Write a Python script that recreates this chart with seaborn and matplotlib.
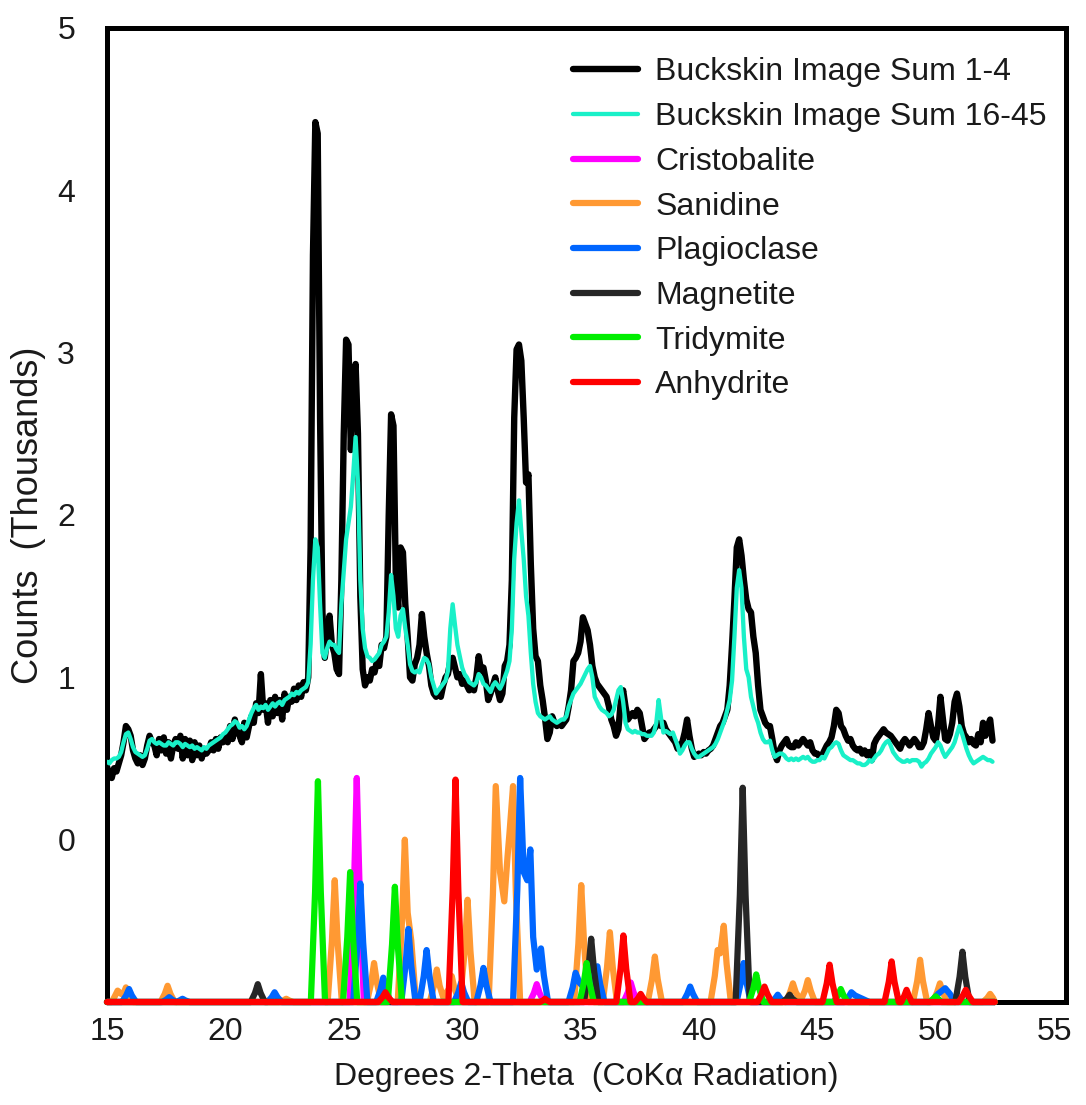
import numpy as np
import matplotlib
matplotlib.use("Agg")
import matplotlib.pyplot as plt
import seaborn as sns

# -------------------------------
# Data
# -------------------------------
# scan positions, 0.1 degree step, 15.0 .. 52.4
two_theta = np.round(np.arange(150, 525) / 10.0, 1)

# Buckskin image sum 1-4 (thousands of counts)
sum_1_4 = [
    0.45, 0.40, 0.38, 0.44, 0.42, 0.47, 0.52, 0.60, 0.70, 0.68,  # 15
    0.64, 0.55, 0.50, 0.47, 0.52, 0.46, 0.50, 0.58, 0.64, 0.60,  # 16
    0.58, 0.52, 0.62, 0.55, 0.63, 0.53, 0.60, 0.50, 0.58, 0.62,  # 17
    0.56, 0.64, 0.50, 0.62, 0.52, 0.61, 0.49, 0.60, 0.52, 0.58,  # 18
    0.50, 0.56, 0.53, 0.55, 0.60, 0.55, 0.62, 0.56, 0.63, 0.60,  # 19
    0.64, 0.60, 0.70, 0.62, 0.74, 0.66, 0.64, 0.60, 0.72, 0.63,  # 20
    0.70, 0.76, 0.72, 0.84, 0.78, 1.02, 0.80, 0.84, 0.72, 0.86,  # 21
    0.76, 0.88, 0.78, 0.86, 0.74, 0.90, 0.80, 0.88, 0.85, 0.93,  # 22
    0.86, 0.95, 0.88, 0.97, 0.92, 1.00, 1.80, 3.60, 4.42, 4.35,  # 23
    2.60, 1.40, 1.12, 1.25, 1.38, 1.20, 1.15, 1.05, 1.02, 1.60,  # 24
    2.50, 3.08, 3.05, 2.40, 2.85, 2.93, 2.50, 1.50, 1.05, 0.95,  # 25
    1.00, 0.98, 1.05, 1.03, 1.10, 1.07, 1.20, 1.18, 1.25, 2.00,  # 26
    2.62, 2.55, 1.60, 1.43, 1.80, 1.77, 1.45, 1.25, 1.00, 0.98,  # 27
    1.08, 1.12, 1.20, 1.39, 1.25, 1.15, 1.07, 0.95, 0.90, 0.88,  # 28
    0.90, 0.88, 0.95, 1.00, 1.02, 1.10, 1.12, 1.06, 1.00, 1.02,  # 29
    0.96, 0.98, 0.95, 0.92, 0.94, 0.92, 1.00, 1.13, 1.04, 1.06,  # 30
    0.98, 0.86, 0.90, 0.95, 1.00, 0.92, 0.86, 0.90, 1.07, 1.10,  # 31
    1.20, 1.60, 2.60, 3.02, 3.05, 2.95, 2.60, 2.20, 2.25, 1.70,  # 32
    1.30, 1.13, 1.10, 0.95, 0.86, 0.75, 0.62, 0.66, 0.76, 0.72,  # 33
    0.70, 0.72, 0.70, 0.72, 0.74, 0.82, 0.92, 1.10, 1.12, 1.15,  # 34
    1.22, 1.37, 1.33, 1.29, 1.20, 1.07, 1.00, 0.96, 0.94, 0.92,  # 35
    0.90, 0.88, 0.82, 0.74, 0.70, 0.64, 0.68, 0.85, 0.92, 0.82,  # 36
    0.74, 0.76, 0.78, 0.76, 0.80, 0.78, 0.70, 0.62, 0.64, 0.66,  # 37
    0.66, 0.68, 0.70, 0.72, 0.70, 0.72, 0.68, 0.66, 0.64, 0.62,  # 38
    0.60, 0.56, 0.58, 0.60, 0.66, 0.74, 0.64, 0.56, 0.51, 0.52,  # 39
    0.53, 0.52, 0.54, 0.53, 0.55, 0.56, 0.58, 0.62, 0.66, 0.70,  # 40
    0.72, 0.76, 0.80, 0.95, 1.20, 1.48, 1.80, 1.85, 1.75, 1.60,  # 41
    1.48, 1.42, 1.40, 1.25, 1.15, 0.95, 0.80, 0.76, 0.72, 0.70,  # 42
    0.70, 0.62, 0.53, 0.49, 0.55, 0.58, 0.60, 0.62, 0.58, 0.57,  # 43
    0.57, 0.60, 0.58, 0.60, 0.62, 0.60, 0.58, 0.60, 0.55, 0.53,  # 44
    0.53, 0.51, 0.52, 0.55, 0.58, 0.60, 0.63, 0.70, 0.80, 0.78,  # 45
    0.70, 0.68, 0.64, 0.61, 0.62, 0.58, 0.56, 0.55, 0.56, 0.53,  # 46
    0.55, 0.52, 0.54, 0.49, 0.59, 0.62, 0.64, 0.66, 0.68, 0.66,  # 47
    0.65, 0.64, 0.62, 0.60, 0.58, 0.56, 0.60, 0.62, 0.60, 0.58,  # 48
    0.60, 0.62, 0.60, 0.57, 0.57, 0.60, 0.68, 0.78, 0.70, 0.63,  # 49
    0.61, 0.70, 0.88, 0.75, 0.62, 0.61, 0.65, 0.72, 0.85, 0.90,  # 50
    0.82, 0.70, 0.65, 0.63, 0.60, 0.62, 0.59, 0.58, 0.65, 0.60,  # 51
    0.72, 0.64, 0.70, 0.74, 0.61,                                # 52
]

# Buckskin image sum 16-45
sum_16_45 = [
    0.48, 0.47, 0.49, 0.50, 0.50, 0.51, 0.54, 0.60, 0.65, 0.66,  # 15
    0.62, 0.57, 0.54, 0.53, 0.52, 0.51, 0.52, 0.56, 0.61, 0.62,  # 16
    0.60, 0.59, 0.60, 0.59, 0.58, 0.58, 0.60, 0.59, 0.58, 0.60,  # 17
    0.60, 0.59, 0.57, 0.59, 0.58, 0.57, 0.58, 0.56, 0.57, 0.56,  # 18
    0.55, 0.57, 0.56, 0.58, 0.59, 0.60, 0.61, 0.62, 0.63, 0.65,  # 19
    0.66, 0.68, 0.70, 0.71, 0.73, 0.72, 0.69, 0.70, 0.68, 0.70,  # 20
    0.74, 0.78, 0.81, 0.83, 0.80, 0.82, 0.81, 0.83, 0.80, 0.82,  # 21
    0.84, 0.82, 0.84, 0.85, 0.83, 0.86, 0.87, 0.88, 0.90, 0.89,  # 22
    0.91, 0.90, 0.92, 0.93, 0.94, 0.97, 1.20, 1.60, 1.85, 1.80,  # 23
    1.45, 1.15, 1.12, 1.18, 1.22, 1.20, 1.20, 1.17, 1.15, 1.45,  # 24
    1.65, 1.85, 1.95, 2.05, 2.25, 2.48, 2.20, 1.60, 1.30, 1.18,  # 25
    1.13, 1.12, 1.10, 1.11, 1.13, 1.15, 1.20, 1.22, 1.25, 1.40,  # 26
    1.63, 1.50, 1.30, 1.25, 1.38, 1.42, 1.30, 1.20, 1.08, 1.04,  # 27
    1.03, 1.04, 1.03, 1.08, 1.12, 1.11, 1.08, 1.00, 0.95, 0.90,  # 28
    0.92, 0.94, 0.96, 0.98, 1.04, 1.30, 1.45, 1.32, 1.20, 1.13,  # 29
    1.06, 1.02, 1.00, 0.97, 0.96, 0.95, 0.97, 1.02, 1.00, 0.96,  # 30
    0.95, 0.93, 0.91, 0.95, 0.97, 0.95, 0.93, 0.96, 1.00, 1.04,  # 31
    1.10, 1.30, 1.73, 1.95, 2.09, 1.90, 1.73, 1.50, 1.38, 1.15,  # 32
    0.96, 0.85, 0.78, 0.76, 0.75, 0.74, 0.75, 0.76, 0.74, 0.73,  # 33
    0.72, 0.73, 0.74, 0.74, 0.76, 0.82, 0.86, 0.90, 0.92, 0.94,  # 34
    0.96, 0.99, 1.02, 1.05, 1.07, 1.00, 0.88, 0.85, 0.82, 0.80,  # 35
    0.79, 0.78, 0.76, 0.77, 0.80, 0.86, 0.92, 0.94, 0.85, 0.72,  # 36
    0.68, 0.67, 0.66, 0.67, 0.66, 0.66, 0.65, 0.65, 0.64, 0.64,  # 37
    0.64, 0.66, 0.72, 0.86, 0.75, 0.66, 0.67, 0.66, 0.65, 0.66,  # 38
    0.62, 0.58, 0.53, 0.55, 0.58, 0.60, 0.60, 0.56, 0.53, 0.51,  # 39
    0.51, 0.52, 0.53, 0.54, 0.55, 0.56, 0.57, 0.59, 0.62, 0.66,  # 40
    0.70, 0.74, 0.80, 0.86, 0.98, 1.25, 1.55, 1.66, 1.55, 1.25,  # 41
    1.05, 1.00, 0.88, 0.82, 0.76, 0.72, 0.66, 0.62, 0.60, 0.60,  # 42
    0.61, 0.55, 0.51, 0.52, 0.53, 0.53, 0.52, 0.50, 0.49, 0.50,  # 43
    0.49, 0.50, 0.49, 0.50, 0.51, 0.50, 0.51, 0.49, 0.48, 0.48,  # 44
    0.49, 0.49, 0.51, 0.50, 0.53, 0.56, 0.57, 0.59, 0.60, 0.59,  # 45
    0.55, 0.52, 0.51, 0.50, 0.49, 0.49, 0.48, 0.47, 0.47, 0.46,  # 46
    0.46, 0.47, 0.49, 0.48, 0.50, 0.52, 0.53, 0.55, 0.58, 0.60,  # 47
    0.61, 0.58, 0.54, 0.52, 0.50, 0.49, 0.48, 0.48, 0.49, 0.48,  # 48
    0.49, 0.49, 0.49, 0.48, 0.45, 0.47, 0.48, 0.50, 0.53, 0.55,  # 49
    0.57, 0.60, 0.58, 0.54, 0.51, 0.53, 0.55, 0.57, 0.60, 0.65,  # 50
    0.70, 0.66, 0.61, 0.56, 0.52, 0.49, 0.47, 0.48, 0.49, 0.50,  # 51
    0.51, 0.50, 0.49, 0.49, 0.48,                                # 52
]

# reference phase patterns, offset so their baseline sits at -1
cristobalite = [
    (15.0, -1), (25.25, -1), (25.43, -0.31), (25.55, 0.38), (25.67, -0.31), (25.85, -1),
    (32.85, -1), (33.03, -0.945), (33.15, -0.89), (33.27, -0.945), (33.45, -1),
    (36.82, -1), (37.0, -0.94), (37.12, -0.88), (37.24, -0.94), (37.42, -1), (52.5, -1),
]

sanidine = [
    (15.0, -1), (15.2, -1), (15.33, -0.965), (15.45, -0.93), (15.6, -0.95), (15.68, -0.955),
    (15.8, -0.91), (15.92, -0.955), (16.1, -1),
    (17.26, -1), (17.44, -0.95), (17.56, -0.90), (17.68, -0.95), (17.86, -1),
    (22.27, -1), (22.45, -0.99), (22.57, -0.98), (22.69, -0.99), (22.87, -1),
    (24.32, -1), (24.5, -0.625), (24.62, -0.25), (24.74, -0.625), (24.92, -1),
    (25.98, -1), (26.16, -0.88), (26.28, -0.76), (26.4, -0.88), (26.58, -1),
    (27.28, -1), (27.46, -0.5), (27.58, 0.0), (27.7, -0.45), (27.85, -0.62), (28.05, -1),
    (28.63, -1), (28.81, -0.9), (28.93, -0.80), (29.05, -0.9), (29.2, -0.97),
    (29.44, -0.92), (29.56, -0.84), (29.68, -0.92), (29.9, -1),
    (30.11, -0.685), (30.23, -0.37), (30.35, -0.685), (30.53, -1),
    (31.12, -1), (31.3, -0.335), (31.42, 0.33), (31.6, -0.2), (31.78, -0.38),
    (31.92, -0.1), (32.0, 0.04), (32.15, 0.33), (32.27, -0.335), (32.45, -1),
    (34.73, -1), (34.91, -0.64), (35.03, -0.28), (35.15, -0.64), (35.33, -1),
    (35.94, -1), (36.12, -0.785), (36.24, -0.57), (36.36, -0.785), (36.54, -1),
    (37.84, -1), (38.02, -0.86), (38.14, -0.72), (38.26, -0.86), (38.44, -1),
    (40.49, -1), (40.67, -0.84), (40.79, -0.68), (40.9, -0.7), (41.05, -0.53),
    (41.17, -0.765), (41.35, -1),
    (43.67, -1), (43.85, -0.94), (43.97, -0.885), (44.09, -0.94), (44.3, -0.99),
    (44.48, -0.93), (44.6, -0.865), (44.72, -0.93), (44.9, -1),
    (49.04, -1), (49.22, -0.87), (49.34, -0.74), (49.46, -0.87), (49.64, -1),
    (49.88, -1), (50.06, -0.94), (50.18, -0.885), (50.3, -0.94), (50.48, -1),
    (52.0, -1), (52.18, -0.975), (52.3, -0.95), (52.42, -0.975), (52.5, -1),
]

plagioclase = [
    (15.0, -1), (15.63, -1), (15.81, -0.96), (15.93, -0.92), (16.05, -0.96), (16.23, -1),
    (17.33, -1), (17.51, -0.985), (17.63, -0.97), (17.75, -0.985), (17.93, -1),
    (18.07, -0.99), (18.19, -0.98), (18.31, -0.99), (18.49, -1),
    (21.78, -1), (21.96, -0.97), (22.08, -0.94), (22.2, -0.97), (22.38, -1),
    (25.4, -1), (25.58, -0.635), (25.7, -0.27), (25.82, -0.635), (26.0, -1),
    (26.37, -1), (26.55, -0.925), (26.67, -0.85), (26.79, -0.925), (26.97, -1),
    (27.43, -1), (27.61, -0.775), (27.73, -0.55), (27.85, -0.775), (28.03, -1),
    (28.2, -1), (28.38, -0.84), (28.5, -0.68), (28.62, -0.84), (28.8, -1),
    (29.66, -1), (29.84, -0.94), (29.96, -0.88), (30.08, -0.94), (30.26, -1),
    (30.6, -1), (30.78, -0.895), (30.9, -0.79), (31.02, -0.895), (31.2, -1),
    (32.15, -1), (32.33, -0.31), (32.45, 0.38), (32.6, -0.2), (32.75, -0.25),
    (32.88, -0.06), (33.0, -0.6), (33.15, -0.8), (33.33, -0.67), (33.45, -0.835), (33.63, -1),
    (34.49, -1), (34.67, -0.91), (34.79, -0.82), (34.95, -0.88), (35.2, -0.92),
    (35.45, -0.86), (35.71, -0.78), (35.83, -0.89), (36.01, -1),
    (39.33, -1), (39.51, -0.95), (39.63, -0.905), (39.75, -0.95), (39.93, -1),
    (41.59, -1), (41.77, -0.88), (41.89, -0.76), (42.01, -0.88), (42.19, -1),
    (43.03, -1), (43.21, -0.98), (43.33, -0.955), (43.45, -0.98), (43.63, -1),
    (46.14, -1), (46.32, -0.97), (46.44, -0.94), (46.6, -0.96), (46.9, -0.98), (47.2, -1),
    (49.8, -1), (50.1, -0.95), (50.4, -0.915), (50.6, -0.95), (50.8, -1), (52.5, -1),
]

magnetite = [
    (15.0, -1), (21.07, -1), (21.25, -0.945), (21.37, -0.89), (21.49, -0.945), (21.67, -1),
    (35.15, -1), (35.33, -0.805), (35.45, -0.61), (35.57, -0.805), (35.75, -1),
    (41.55, -1), (41.73, -0.34), (41.85, 0.32), (41.97, -0.34), (42.15, -1),
    (43.53, -1), (43.71, -0.98), (43.83, -0.955), (43.95, -0.98), (44.13, -1),
    (50.83, -1), (51.01, -0.845), (51.13, -0.69), (51.25, -0.845), (51.43, -1), (52.5, -1),
]

tridymite = [
    (15.0, -1), (23.61, -1), (23.79, -0.32), (23.91, 0.36), (24.03, -0.32), (24.21, -1),
    (24.97, -1), (25.15, -0.6), (25.27, -0.2), (25.39, -0.6), (25.57, -1),
    (26.86, -1), (27.04, -0.645), (27.16, -0.29), (27.28, -0.645), (27.46, -1),
    (34.96, -1), (35.14, -0.88), (35.26, -0.76), (35.38, -0.88), (35.56, -1),
    (42.12, -1), (42.3, -0.915), (42.42, -0.83), (42.54, -0.915), (42.72, -1),
    (45.69, -1), (45.87, -0.96), (45.99, -0.92), (46.11, -0.96), (46.29, -1),
    (49.75, -1), (49.9, -0.98), (50.0, -0.965), (50.1, -0.98), (50.25, -1), (52.5, -1),
]

anhydrite = [
    (15.0, -1), (26.46, -1), (26.64, -0.97), (26.76, -0.94), (26.88, -0.97), (27.06, -1),
    (29.42, -1), (29.6, -0.315), (29.72, 0.37), (29.84, -0.315), (30.02, -1),
    (33.3, -1), (33.42, -0.99), (33.5, -0.98), (33.58, -0.99), (33.7, -1),
    (36.51, -1), (36.69, -0.795), (36.81, -0.59), (36.93, -0.795), (37.11, -1),
    (37.3, -1), (37.44, -0.975), (37.54, -0.95), (37.64, -0.975), (37.78, -1),
    (42.47, -1), (42.65, -0.95), (42.77, -0.905), (42.89, -0.95), (43.07, -1),
    (45.22, -1), (45.4, -0.885), (45.52, -0.77), (45.64, -0.885), (45.82, -1),
    (47.84, -1), (48.02, -0.875), (48.14, -0.75), (48.26, -0.875), (48.44, -1),
    (48.55, -1), (48.68, -0.96), (48.77, -0.925), (48.86, -0.96), (48.99, -1),
    (50.97, -1), (51.15, -0.96), (51.27, -0.925), (51.39, -0.96), (51.57, -1), (52.5, -1),
]

phase_names = ["Cristobalite", "Sanidine", "Plagioclase", "Magnetite", "Tridymite", "Anhydrite"]
phase_data = [cristobalite, sanidine, plagioclase, magnetite, tridymite, anhydrite]
phase_colors = ["#FF00FF", "#FF9933", "#0066FF", "#262626", "#00EE00", "#FF0000"]

y_ticks = [0, 1, 2, 3, 4, 5]
x_ticks = [15, 20, 25, 30, 35, 40, 45, 50, 55]

# -------------------------------
# Plot
# -------------------------------
sns.set_theme(style="white")
plt.rcParams["font.family"] = ["Liberation Sans", "DejaVu Sans"]

fig = plt.figure(figsize=(10.86, 11.05), dpi=100)
ax = fig.add_axes([0.0985, 0.0932, 0.883, 0.8815])

sns.lineplot(x=two_theta, y=sum_1_4, color="black", lw=4.6, sort=False,
             estimator=None, label="Buckskin Image Sum 1-4", ax=ax, zorder=3,
             solid_joinstyle="round")
sns.lineplot(x=two_theta, y=sum_16_45, color="#19F0C8", lw=3.1, sort=False,
             estimator=None, label="Buckskin Image Sum 16-45", ax=ax, zorder=3,
             solid_joinstyle="round")

for name, pts, col in zip(phase_names, phase_data, phase_colors):
    px = [p[0] for p in pts]
    py = [p[1] for p in pts]
    sns.lineplot(x=px, y=py, color=col, lw=4.5, sort=False, estimator=None,
                 label=name, ax=ax, zorder=3, clip_on=False,
                 solid_joinstyle="round")

ax.set_xlim(15, 55.5)
ax.set_ylim(-1, 5)
ax.set_xticks(x_ticks)
ax.set_yticks(y_ticks)

for s in ax.spines.values():
    s.set_linewidth(3.6)
    s.set_color("black")
    s.set_zorder(2)

ax.tick_params(axis="both", direction="in", length=8, width=3.6, color="black",
               labelsize=23, labelcolor="#1a1a1a")
ax.tick_params(axis="y", pad=23)
ax.tick_params(axis="x", pad=11)
ax.tick_params(top=False, right=False)

ax.set_xlabel("Degrees 2-Theta  (CoK\u03b1 Radiation)", fontsize=23, color="#1a1a1a")
ax.set_ylabel("Counts  (Thousands)", fontsize=26, color="#1a1a1a")
ax.yaxis.set_label_coords(-0.064, 0.5)
ax.xaxis.set_label_coords(0.5, -0.062)

leg = ax.legend(loc="upper left", bbox_to_anchor=(0.486, 0.9697), frameon=False,
                fontsize=23, handlelength=2.04, handletextpad=0.53,
                labelspacing=0.46, borderpad=0, borderaxespad=0)
for t in leg.get_texts():
    t.set_color("#1a1a1a")

fig.savefig("out.png", dpi=100, facecolor="white")
